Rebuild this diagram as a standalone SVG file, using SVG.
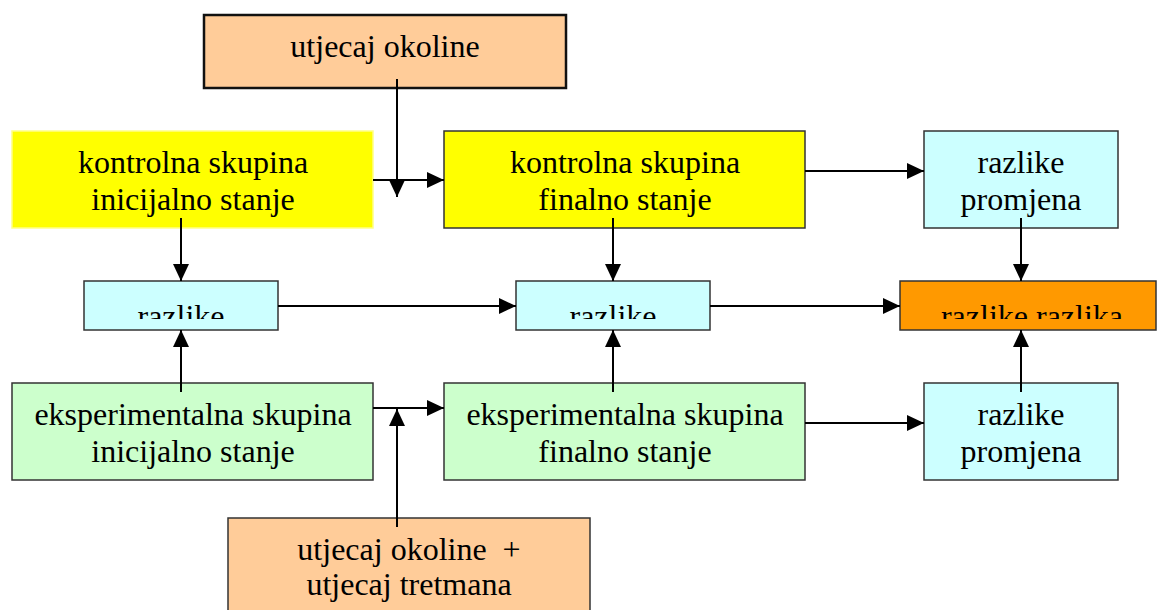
<svg xmlns="http://www.w3.org/2000/svg" width="1157" height="610" viewBox="0 0 1157 610">
<style>
text{font-family:"Liberation Serif","Times New Roman",serif;font-size:32px;fill:#000;text-anchor:middle}
.b{stroke:#333;stroke-width:1.5}
.c{stroke:#000;stroke-width:2;fill:none;marker-end:url(#a)}
</style>
<defs>
<marker id="a" markerUnits="userSpaceOnUse" markerWidth="18" markerHeight="16" viewBox="0 0 18 16" refX="17" refY="8" orient="auto">
<path d="M0,0 L17,8 L0,16 Z" fill="#000"/>
</marker>
<clipPath id="cl"><rect x="0" y="281" width="1157" height="38"/></clipPath>
</defs>
<g id="top">
<rect x="204" y="15" width="362" height="73" fill="#FFCC99" stroke="#111" stroke-width="2.5"/>
<text x="385" y="57">utjecaj okoline</text>
</g>
<g id="ks-init">
<rect x="12" y="131" width="361" height="97" fill="#FFFF00" stroke="#FFFF88" stroke-width="1.5"/>
<text x="193" y="173">kontrolna skupina</text>
<text x="193" y="210">inicijalno stanje</text>
</g>
<g id="ks-fin">
<rect x="444" y="131" width="361" height="97" fill="#FFFF00" class="b"/>
<text x="625" y="173">kontrolna skupina</text>
<text x="625" y="210">finalno stanje</text>
</g>
<g id="rp-top">
<rect x="924" y="131" width="194" height="97" fill="#CCFFFF" class="b"/>
<text x="1021" y="173">razlike</text>
<text x="1021" y="210">promjena</text>
</g>
<g id="r1">
<rect x="84" y="281" width="194" height="49" fill="#CCFFFF" class="b"/>
<text x="181" y="327" clip-path="url(#cl)">razlike</text>
</g>
<g id="r2">
<rect x="516" y="281" width="194" height="49" fill="#CCFFFF" class="b"/>
<text x="613" y="327" clip-path="url(#cl)">razlike</text>
</g>
<g id="rr">
<rect x="900" y="281" width="256" height="49" fill="#FF9900" class="b"/>
<text x="1032" y="327" clip-path="url(#cl)">razlike razlika</text>
</g>
<g id="es-init">
<rect x="12" y="383" width="361" height="97" fill="#CCFFCC" class="b"/>
<text x="193" y="425">eksperimentalna skupina</text>
<text x="193" y="462">inicijalno stanje</text>
</g>
<g id="es-fin">
<rect x="444" y="383" width="361" height="97" fill="#CCFFCC" class="b"/>
<text x="625" y="425">eksperimentalna skupina</text>
<text x="625" y="462">finalno stanje</text>
</g>
<g id="rp-bot">
<rect x="924" y="383" width="194" height="97" fill="#CCFFFF" class="b"/>
<text x="1021" y="425">razlike</text>
<text x="1021" y="462">promjena</text>
</g>
<g id="bottom">
<rect x="228" y="518" width="362" height="100" fill="#FFCC99" class="b"/>
<text x="409" y="560" xml:space="preserve">utjecaj okoline  +</text>
<text x="409" y="595">utjecaj tretmana</text>
</g>
<g id="connectors">
<path class="c" d="M397,79 V197"/>
<path class="c" d="M373,180 H444"/>
<path class="c" d="M805,171 H924"/>
<path class="c" d="M181,218 V281"/>
<path class="c" d="M613,218 V281"/>
<path class="c" d="M1021,218 V281"/>
<path class="c" d="M181,392 V330"/>
<path class="c" d="M613,392 V330"/>
<path class="c" d="M1021,392 V330"/>
<path class="c" d="M278,306 H516"/>
<path class="c" d="M710,306 H900"/>
<path class="c" d="M373,408 H444"/>
<path class="c" d="M805,423 H924"/>
<path class="c" d="M397,527 V409"/>
</g>
</svg>
